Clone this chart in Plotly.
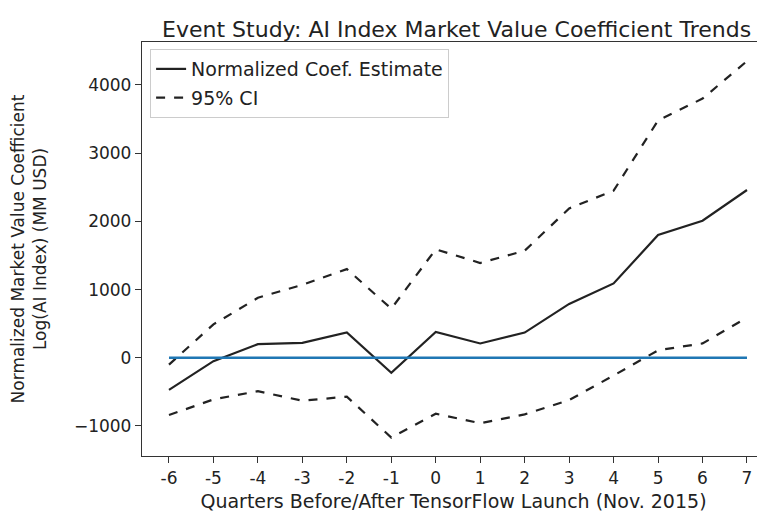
import plotly.graph_objects as go

# Event study data (quarters relative to TensorFlow launch)
quarters = [-6, -5, -4, -3, -2, -1, 0, 1, 2, 3, 4, 5, 6, 7]
quarter_labels = ['-6', '-5', '-4', '-3', '-2', '-1', '0', '1', '2', '3', '4', '5', '6', '7']
coef_estimate = [-470, -50, 200, 220, 370, -220, 380, 210, 370, 790, 1090, 1800, 2010, 2460]
ci_upper = [-100, 490, 880, 1070, 1300, 720, 1590, 1390, 1570, 2190, 2450, 3480, 3800, 4350]
ci_lower = [-840, -610, -490, -630, -570, -1170, -820, -960, -830, -620, -260, 110, 210, 590]
zero_line = [0] * len(quarters)
y_ticks = [-1000, 0, 1000, 2000, 3000, 4000]
y_tick_labels = ['\u22121000', '0', '1000', '2000', '3000', '4000']

fig = go.Figure()

fig.add_trace(
    go.Scatter(
        x=quarters,
        y=coef_estimate,
        mode='lines',
        name='Normalized Coef. Estimate',
        legendgroup='est',
        line=dict(color='#222222', width=2.2)
    )
)

fig.add_trace(
    go.Scatter(
        x=quarters,
        y=ci_upper,
        mode='lines',
        name='95% CI',
        legendgroup='ci',
        line=dict(color='#222222', width=2.2, dash='dash')
    )
)

fig.add_trace(
    go.Scatter(
        x=quarters,
        y=ci_lower,
        mode='lines',
        legendgroup='ci',
        showlegend=False,
        line=dict(color='#222222', width=2.2, dash='dash')
    )
)

fig.add_trace(
    go.Scatter(
        x=quarters,
        y=zero_line,
        mode='lines',
        showlegend=False,
        line=dict(color='#1f77b4', width=2.5)
    )
)

fig.update_xaxes(
    range=[-6.607, 7.405],
    tickvals=quarters,
    ticktext=quarter_labels,
    ticks='outside',
    ticklen=6,
    tickcolor='#333333',
    showline=True,
    linecolor='#333333',
    linewidth=1.3,
    mirror=True,
    showgrid=False,
    zeroline=False,
    tickfont=dict(size=17, color='#222222'),
    title=dict(
        text='Quarters Before/After TensorFlow Launch (Nov. 2015)',
        font=dict(size=19, color='#222222'),
        standoff=8
    )
)

fig.update_yaxes(
    range=[-1440, 4630],
    tickvals=y_ticks,
    ticktext=y_tick_labels,
    ticks='outside',
    ticklen=6,
    tickcolor='#333333',
    showline=True,
    linecolor='#333333',
    linewidth=1.3,
    mirror=False,
    showgrid=False,
    zeroline=False,
    tickfont=dict(size=17, color='#222222'),
    title=dict(
        text='Normalized Market Value Coefficient<br>Log(AI Index) (MM USD)',
        font=dict(size=17, color='#222222'),
        standoff=26
    )
)

# the page body adds an 8px offset, so the figure is sized to end at the window edge
fig.update_layout(
    width=757,
    height=509,
    margin=dict(l=134, r=0, t=34, b=61, autoexpand=False),
    paper_bgcolor='white',
    plot_bgcolor='white',
    font=dict(family='DejaVu Sans', color='#222222'),
    title=dict(
        text='Event Study: AI Index Market Value Coefficient Trends',
        font=dict(size=22, color='#222222'),
        xref='paper',
        x=0.505,
        xanchor='center',
        yref='paper',
        y=1,
        yanchor='bottom',
        pad=dict(b=5)
    ),
    legend=dict(
        x=0.013,
        y=0.983,
        xanchor='left',
        yanchor='top',
        tracegroupgap=1,
        bgcolor='rgba(255,255,255,0.9)',
        bordercolor='#cccccc',
        borderwidth=1,
        font=dict(size=19, color='#222222')
    )
)

fig.write_html("out.html")
